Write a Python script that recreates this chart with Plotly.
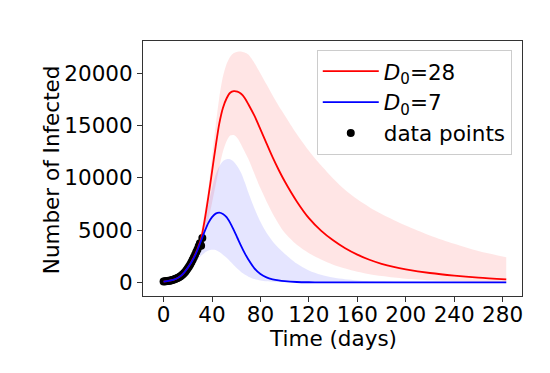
import plotly.graph_objects as go

# ---- data ----
days = [0, 5, 10, 15, 20, 25, 28, 31, 34, 37, 40, 43, 46, 49, 52, 55, 58, 61, 64, 67, 70,
        75, 80, 85, 90, 95, 100, 110, 120, 130, 140, 150, 160, 170, 180, 190, 200, 220, 240, 260, 283]

red_mid = [70, 160, 330, 700, 1400, 2400, 3200, 4200, 6000, 8200, 10600, 13000, 15200, 16700, 17600,
           18150, 18300, 18250, 18050, 17650, 17050, 15950, 14650, 13300, 11980, 10780, 9680, 7750,
           6150, 4960, 4030, 3270, 2660, 2170, 1780, 1480, 1250, 900, 650, 460, 300]
red_hi = [80, 180, 380, 800, 1600, 2700, 3600, 4800, 6800, 9000, 12000, 15000, 17700, 19700, 20900,
          21600, 21950, 22080, 22100, 22000, 21800, 21000, 20000, 18950, 17900, 16900, 16000, 14200,
          12600, 11200, 9950, 8850, 7950, 7200, 6550, 5980, 5450, 4500, 3700, 3000, 2400]
red_lo = [60, 140, 290, 600, 1200, 2000, 2700, 3500, 4600, 6000, 7600, 9300, 11000, 12500, 13500,
          14050, 14100, 13800, 13200, 12500, 11800, 10400, 9000, 7750, 6600, 5600, 4750, 3600,
          2800, 2200, 1700, 1320, 1020, 790, 610, 470, 360, 210, 120, 65, 30]

blue_mid = [70, 160, 330, 700, 1400, 2350, 3100, 4000, 4900, 5700, 6250, 6580, 6680, 6550, 6250,
            5700, 5000, 4250, 3500, 2800, 2200, 1350, 800, 480, 300, 185, 115, 42, 15, 5, 2, 0, 0,
            0, 0, 0, 0, 0, 0, 0, 0]
blue_hi = [70, 160, 340, 700, 1400, 2400, 3200, 4200, 5800, 7500, 9000, 10300, 11100, 11600, 11780,
           11780, 11550, 11100, 10500, 9600, 8600, 7100, 5800, 4750, 3950, 3300, 2750, 1800, 1150,
           730, 460, 300, 190, 120, 80, 50, 30, 12, 5, 2, 1]
blue_lo = [60, 140, 290, 580, 1100, 1700, 2150, 2550, 2850, 3050, 3130, 3100, 2900, 2650, 2350,
           2000, 1650, 1300, 1000, 750, 550, 320, 180, 100, 55, 30, 15, 5, 2, 1, 0, 0, 0, 0, 0,
           0, 0, 0, 0, 0, 0]

data_days = list(range(33))
data_vals = [90, 100, 115, 130, 150, 170, 195, 225, 260, 300, 345, 395, 455, 520, 600, 690, 790,
             900, 1030, 1180, 1350, 1530, 1720, 1930, 2160, 2400, 2650, 2900, 3150, 3450, 3750,
             3500, 4250]

x_ticks = [0, 40, 80, 120, 160, 200, 240, 280]
y_ticks = [0, 5000, 10000, 15000, 20000]

FONT = "DejaVu Sans"
FS = 21.5

fig = go.Figure()

def band(lo, hi, color):
    fig.add_trace(go.Scatter(
        x=days, y=lo, mode="lines", line=dict(width=0, shape="spline", smoothing=0.8),
        showlegend=False, hoverinfo="skip"))
    fig.add_trace(go.Scatter(
        x=days, y=hi, mode="lines", fill="tonexty", fillcolor=color,
        line=dict(width=0, shape="spline", smoothing=0.8),
        showlegend=False, hoverinfo="skip"))

band(red_lo, red_hi, "rgba(255,0,0,0.1)")
band(blue_lo, blue_hi, "rgba(0,0,255,0.1)")

# data points
fig.add_trace(go.Scatter(
    x=data_days, y=data_vals, mode="markers", name="data points",
    marker=dict(color="black", size=8), legendrank=3))

# model curves
fig.add_trace(go.Scatter(
    x=days, y=red_mid, mode="lines", name="<i>D</i><sub>0</sub>=28",
    line=dict(color="#ff0000", width=1.8, shape="spline", smoothing=0.8), legendrank=1))
fig.add_trace(go.Scatter(
    x=days, y=blue_mid, mode="lines", name="<i>D</i><sub>0</sub>=7",
    line=dict(color="#0000ff", width=1.8, shape="spline", smoothing=0.8), legendrank=2))

axis_common = dict(
    showline=True, linecolor="#333333", linewidth=1, mirror=True,
    ticks="outside", ticklen=5, tickwidth=1, tickcolor="#333333",
    showgrid=False, zeroline=False, automargin=False,
    tickfont=dict(family=FONT, size=FS, color="black"),
)

# page body has an 8px margin: figure is placed at (8, 8)
fig.update_layout(
    width=542, height=365,
    margin=dict(l=135, r=28, t=33, b=77),
    paper_bgcolor="white", plot_bgcolor="white",
    font=dict(family=FONT, size=FS, color="black"),
    xaxis=dict(range=[-17, 296], tickvals=x_ticks, ticktext=[str(v) for v in x_ticks],
               ticklabelstandoff=-6, **axis_common),
    yaxis=dict(range=[-1300, 23100], tickvals=y_ticks, ticktext=[str(v) for v in y_ticks],
               **axis_common),
    legend=dict(x=0.973, xanchor="right", y=0.966, yanchor="top", traceorder="normal",
                bgcolor="rgba(255,255,255,0.8)", bordercolor="#cccccc", borderwidth=1,
                font=dict(family=FONT, size=FS, color="black"),
                tracegroupgap=0, itemwidth=56),
    annotations=[
        dict(text="Time (days)", xref="paper", yref="paper", x=0.5, y=-0.165,
             xanchor="center", yanchor="middle", showarrow=False,
             font=dict(family=FONT, size=FS, color="black")),
        dict(text="Number of Infected", xref="paper", yref="paper", x=-0.241, y=0.496,
             xanchor="center", yanchor="middle", textangle=-90, showarrow=False,
             font=dict(family=FONT, size=FS, color="black")),
    ],
    showlegend=True,
)

fig.write_html("out.html")
